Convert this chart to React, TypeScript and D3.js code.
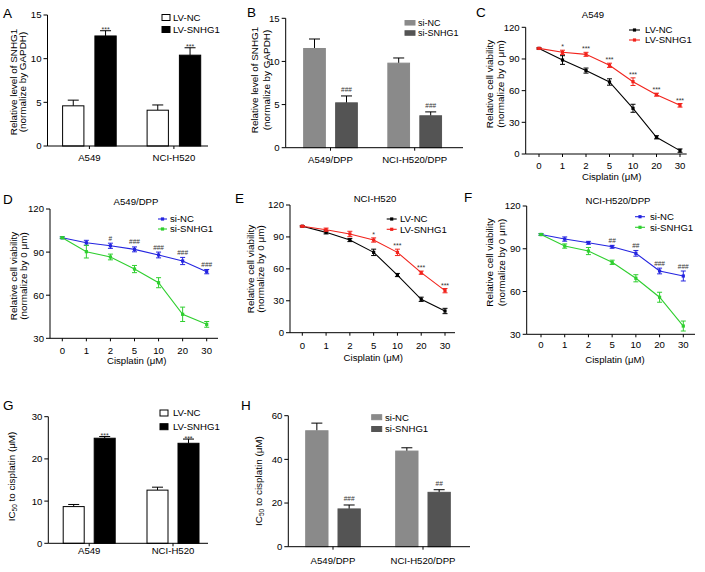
import React from 'react';
import * as d3 from 'd3';

const FONT = "'Liberation Sans', Arial, Helvetica, sans-serif";

// ---------- categories / tick labels ----------
const cellLines = ['A549', 'NCI-H520'];
const dppLines = ['A549/DPP', 'NCI-H520/DPP'];
const lvGroups = ['LV-NC', 'LV-SNHG1'];
const siGroups = ['si-NC', 'si-SNHG1'];
const doses = ['0', '1', '2', '5', '10', '20', '30'];

// ---------- Panel A: relative SNHG1 (LV) ----------
const aNC = [4.6, 4.1];
const aNCErr = [0.65, 0.6];
const aSN = [12.6, 10.4];
const aSNErr = [0.6, 0.85];
const aMarks = ['***', '***'];

// ---------- Panel B: relative SNHG1 (si) ----------
const bNC = [11.5, 9.8];
const bNCErr = [1.1, 0.6];
const bSN = [5.2, 3.7];
const bSNErr = [0.8, 0.45];
const bMarks = ['###', '###'];

// ---------- Panel C: A549 viability ----------
const cNC = [100, 89, 79, 68.2, 43.3, 15.8, 3.2];
const cNCErr = [0.6, 4.1, 2.4, 3, 3.8, 1.5, 1.6];
const cSN = [100, 96.3, 94.4, 84, 68.5, 56.2, 46.1];
const cSNErr = [0.6, 2, 1.9, 2, 3.6, 1.4, 1.7];
const cMarks = ['', '*', '***', '***', '***', '***', '***'];

// ---------- Panel D: A549/DPP viability ----------
const dNC = [100, 96.5, 94.4, 91.9, 88, 83.8, 76.4];
const dNCErr = [0.6, 1.7, 1.8, 1.7, 2, 2.5, 1.5];
const dSN = [100, 90.3, 86.6, 78.2, 68.7, 46.7, 39.7];
const dSNErr = [0.6, 4.4, 2, 2.5, 3.5, 5, 2];
const dMarks = ['', '', '#', '###', '###', '###', '###'];

// ---------- Panel E: NCI-H520 viability ----------
const eNC = [100, 94.3, 87.1, 75.5, 54.2, 31.4, 20.4];
const eNCErr = [0.6, 1.5, 1.5, 3, 1.5, 2, 2.5];
const eSN = [100, 96.8, 92.8, 87.1, 75.5, 56.4, 39.5];
const eSNErr = [0.6, 1.5, 2.5, 2, 3, 1.5, 2];
const eMarks = ['', '', '', '*', '***', '***', '***'];

// ---------- Panel F: NCI-H520/DPP viability ----------
const fNC = [100, 96.8, 94.2, 91.4, 86.8, 74.4, 70.9];
const fNCErr = [0.6, 1.5, 1, 1, 2, 2, 3.5];
const fSN = [100, 91.9, 88.4, 80.5, 69.3, 56, 35.8];
const fSNErr = [0.6, 1.5, 2.5, 1.5, 2.5, 3.5, 3.5];
const fMarks = ['', '', '', '##', '##', '###', '###'];

// ---------- Panel G: IC50 (LV) ----------
const gNC = [8.7, 12.6];
const gNCErr = [0.5, 0.7];
const gSN = [24.9, 23.7];
const gSNErr = [0.4, 1.0];
const gMarks = ['***', '***'];

// ---------- Panel H: IC50 (si) ----------
const hNC = [53.1, 43.8];
const hNCErr = [3.5, 1.5];
const hSN = [17.3, 24.9];
const hSNErr = [1.8, 1.2];
const hMarks = ['###', '##'];

const yTicks15 = [0, 5, 10, 15];
const yTicks30 = [0, 10, 20, 30];
const yTicks60 = [0, 20, 40, 60];
const yTicks120 = [0, 30, 60, 90, 120];
const yTicks30to120 = [30, 60, 90, 120];

const TXT = 9.6;
const YLAB = 9.9;

type BarSpec = {
  letter: string; letterX: number; letterY: number;
  axisX: number; axisEnd: number; yTop: number; yBot: number;
  catRange: [number, number]; barW: number; gap: number;
  yMax: number; yTicks: number[];
  cats: string[]; groups: string[];
  means: number[][]; errs: number[][]; marks: string[];
  fills: string[]; strokes: string[];
  yLabel: string[] | null; yLabelX: number[]; yLabelY: number;
  xLabelY: number;
  legX: number; legY: number[]; legW: number; legH: number; legTextX: number; legFont: number;
};

function BarPanel({ s }: { s: BarSpec }) {
  const y = d3.scaleLinear().domain([0, s.yMax]).range([s.yBot, s.yTop]);
  const xc = d3.scalePoint<string>().domain(s.cats).range(s.catRange);
  const R = 2 * s.barW + s.gap;
  const xg = d3.scaleBand<string>().domain(s.groups).range([-R / 2, R / 2])
    .paddingInner(s.gap / (s.barW + s.gap));
  const bw = xg.bandwidth();
  const capHalf = 5.5;
  return (
    <g fontFamily={FONT}>
      <text x={s.letterX} y={s.letterY} fontSize={13.5}>{s.letter}</text>
      {s.groups.map((g, gi) => s.cats.map((c, ci) => {
        const x0 = (xc(c) as number) + (xg(g) as number);
        const v = s.means[gi][ci];
        const e = s.errs[gi][ci];
        const cx = x0 + bw / 2;
        return (
          <g key={g + c}>
            <line x1={cx} x2={cx} y1={y(v)} y2={y(v + e)} stroke="#000" strokeWidth={1} />
            <line x1={cx - capHalf} x2={cx + capHalf} y1={y(v + e)} y2={y(v + e)} stroke="#000" strokeWidth={1} />
            <rect x={x0} y={y(v)} width={bw} height={s.yBot - y(v)} fill={s.fills[gi]}
              stroke={s.strokes[gi]} strokeWidth={1} />
          </g>
        );
      }))}
      {s.cats.map((c, ci) => {
        const g = s.groups[1];
        const cx = (xc(c) as number) + (xg(g) as number) + bw / 2;
        const top = y(s.means[1][ci] + s.errs[1][ci]);
        const m = s.marks[ci];
        const isStar = m.startsWith('*');
        return (
          <text key={'m' + c} x={cx} y={isStar ? top + 1.5 : top - 3.5} fontSize={isStar ? 7 : 6.5}
            textAnchor="middle" fill="#333">{m}</text>
        );
      })}
      {/* axes */}
      <line x1={s.axisX} x2={s.axisX} y1={s.yTop} y2={s.yBot} stroke="#000" strokeWidth={1} />
      <line x1={s.axisX} x2={s.axisEnd} y1={s.yBot} y2={s.yBot} stroke="#000" strokeWidth={1} />
      {s.yTicks.map(t => (
        <g key={'t' + t}>
          <line x1={s.axisX - 4} x2={s.axisX} y1={y(t)} y2={y(t)} stroke="#000" strokeWidth={1} />
          <text x={s.axisX - 6} y={y(t) + 3.4} fontSize={TXT} textAnchor="end">{t}</text>
        </g>
      ))}
      {s.cats.map(c => (
        <g key={'x' + c}>
          <line x1={xc(c)} x2={xc(c)} y1={s.yBot} y2={s.yBot + 3} stroke="#000" strokeWidth={1} />
          <text x={xc(c)} y={s.xLabelY} fontSize={TXT} textAnchor="middle">{c}</text>
        </g>
      ))}
      {/* y label */}
      {s.yLabel ? s.yLabel.map((l, i) => (
        <text key={'yl' + i} x={s.yLabelX[i]} y={s.yLabelY} fontSize={YLAB} textAnchor="middle"
          transform={`rotate(-90, ${s.yLabelX[i]}, ${s.yLabelY})`}>{l}</text>
      )) : (
        <text x={s.yLabelX[0]} y={s.yLabelY} fontSize={YLAB} textAnchor="middle"
          transform={`rotate(-90, ${s.yLabelX[0]}, ${s.yLabelY})`}>
          <tspan>IC</tspan><tspan fontSize={6.5} dy={2}>50</tspan><tspan dy={-2}> to cisplatin (μM)</tspan>
        </text>
      )}
      {/* legend */}
      {s.groups.map((g, gi) => (
        <g key={'lg' + g}>
          <rect x={s.legX} y={s.legY[gi] - s.legH / 2} width={s.legW} height={s.legH}
            fill={s.fills[gi]} stroke={s.strokes[gi]} strokeWidth={1} />
          <text x={s.legTextX} y={s.legY[gi] + 3.3} fontSize={s.legFont}>{g}</text>
        </g>
      ))}
    </g>
  );
}

type Series = { name: string; color: string; values: number[]; errs: number[] };
type LineSpec = {
  letter: string; letterX: number; letterY: number;
  title: string; titleX: number; titleY: number;
  axisX: number; axisEnd: number; yTop: number; yBot: number;
  xFirst: number; xLast: number;
  yDomain: [number, number]; yTicks: number[];
  series: Series[]; marks: string[];
  yLabelX: number[]; yLabelY: number;
  xTickY: number; xTitleX: number; xTitleY: number;
  legX1: number; legX2: number; legY: number[]; legTextX: number;
};

function LinePanel({ s }: { s: LineSpec }) {
  const x = d3.scalePoint<string>().domain(doses).range([s.xFirst, s.xLast]);
  const y = d3.scaleLinear().domain(s.yDomain).range([s.yBot, s.yTop]);
  const line = d3.line<number>().x((_, i) => x(doses[i]) as number).y(d => y(d));
  const capHalf = 2.5;
  const mk = 3.2;
  const yLab = ['Relative cell viability', '(normalize by 0 μm)'];
  return (
    <g fontFamily={FONT}>
      <text x={s.letterX} y={s.letterY} fontSize={13.5}>{s.letter}</text>
      <text x={s.titleX} y={s.titleY} fontSize={9.6} textAnchor="middle">{s.title}</text>
      {s.series.map(se => (
        <g key={se.name}>
          <path d={line(se.values) || ''} fill="none" stroke={se.color} strokeWidth={1.1} />
          {se.values.map((v, i) => {
            const cx = x(doses[i]) as number;
            const e = se.errs[i];
            return (
              <g key={i}>
                <line x1={cx} x2={cx} y1={y(v - e)} y2={y(v + e)} stroke={se.color} strokeWidth={1} />
                <line x1={cx - capHalf} x2={cx + capHalf} y1={y(v + e)} y2={y(v + e)} stroke={se.color} strokeWidth={1} />
                <line x1={cx - capHalf} x2={cx + capHalf} y1={y(v - e)} y2={y(v - e)} stroke={se.color} strokeWidth={1} />
                <rect x={cx - mk / 2} y={y(v) - mk / 2} width={mk} height={mk} fill={se.color} />
              </g>
            );
          })}
        </g>
      ))}
      {s.marks.map((m, i) => {
        if (!m) return null;
        const top = Math.max(...s.series.map(se => se.values[i] + se.errs[i]));
        const cx = x(doses[i]) as number;
        const isStar = m.startsWith('*');
        return (
          <text key={'m' + i} x={cx} y={isStar ? y(top) - 1 : y(top) - 2.5} fontSize={isStar ? 7 : 6.5}
            textAnchor="middle" fill="#333">{m}</text>
        );
      })}
      {/* axes */}
      <line x1={s.axisX} x2={s.axisX} y1={s.yTop} y2={s.yBot} stroke="#000" strokeWidth={1} />
      <line x1={s.axisX} x2={s.axisEnd} y1={s.yBot} y2={s.yBot} stroke="#000" strokeWidth={1} />
      {s.yTicks.map(t => (
        <g key={'t' + t}>
          <line x1={s.axisX - 4} x2={s.axisX} y1={y(t)} y2={y(t)} stroke="#000" strokeWidth={1} />
          <text x={s.axisX - 6} y={y(t) + 3.4} fontSize={TXT} textAnchor="end">{t}</text>
        </g>
      ))}
      {doses.map(d => (
        <g key={'x' + d}>
          <line x1={x(d)} x2={x(d)} y1={s.yBot} y2={s.yBot + 3} stroke="#000" strokeWidth={1} />
          <text x={x(d)} y={s.xTickY} fontSize={TXT} textAnchor="middle">{d}</text>
        </g>
      ))}
      <text x={s.xTitleX} y={s.xTitleY} fontSize={TXT} textAnchor="middle">Cisplatin (μM)</text>
      {yLab.map((l, i) => (
        <text key={'yl' + i} x={s.yLabelX[i]} y={s.yLabelY} fontSize={YLAB} textAnchor="middle"
          transform={`rotate(-90, ${s.yLabelX[i]}, ${s.yLabelY})`}>{l}</text>
      ))}
      {/* legend */}
      {s.series.map((se, i) => (
        <g key={'lg' + se.name}>
          <line x1={s.legX1} x2={s.legX2} y1={s.legY[i]} y2={s.legY[i]} stroke={se.color} strokeWidth={1.1} />
          <rect x={(s.legX1 + s.legX2) / 2 - mk / 2} y={s.legY[i] - mk / 2} width={mk} height={mk} fill={se.color} />
          <text x={s.legTextX} y={s.legY[i] + 3.4} fontSize={TXT}>{se.name}</text>
        </g>
      ))}
    </g>
  );
}

const BLACK = '#000000';
const RED = '#f2231c';
const BLUE = '#2424e0';
const GREEN = '#2fcf2f';
const GRAY_L = '#8a8a8a';
const GRAY_D = '#545454';

const panelA: BarSpec = {
  letter: 'A', letterX: 3, letterY: 17.5,
  axisX: 47.5, axisEnd: 208, yTop: 15, yBot: 146,
  catRange: [89.4, 173.9], barW: 21.3, gap: 11,
  yMax: 15, yTicks: yTicks15, cats: cellLines, groups: lvGroups,
  means: [aNC, aSN], errs: [aNCErr, aSNErr], marks: aMarks,
  fills: ['#fff', BLACK], strokes: [BLACK, BLACK],
  yLabel: ['Relative level of SNHG1', '(normalize by GAPDH)'], yLabelX: [17, 25.8], yLabelY: 82,
  xLabelY: 160.5,
  legX: 162, legY: [17.5, 29.5], legW: 8, legH: 6, legTextX: 173, legFont: TXT,
};

const panelB: BarSpec = {
  letter: 'B', letterX: 247, letterY: 17,
  axisX: 285.7, axisEnd: 463, yTop: 18.3, yBot: 147.7,
  catRange: [330.5, 414.7], barW: 21.7, gap: 10.3,
  yMax: 15, yTicks: yTicks15, cats: dppLines, groups: siGroups,
  means: [bNC, bSN], errs: [bNCErr, bSNErr], marks: bMarks,
  fills: [GRAY_L, GRAY_D], strokes: [GRAY_L, GRAY_D],
  yLabel: ['Relative level of SNHG1', '(normalize by GAPDH)'], yLabelX: [257.5, 270], yLabelY: 80,
  xLabelY: 162.5,
  legX: 405, legY: [22.8, 33], legW: 10, legH: 4.5, legTextX: 418, legFont: 9,
};

const panelG: BarSpec = {
  letter: 'G', letterX: 3, letterY: 409.5,
  axisX: 48.3, axisEnd: 208, yTop: 416.7, yBot: 543.3,
  catRange: [89.2, 173], barW: 21, gap: 10,
  yMax: 30, yTicks: yTicks30, cats: cellLines, groups: lvGroups,
  means: [gNC, gSN], errs: [gNCErr, gSNErr], marks: gMarks,
  fills: ['#fff', BLACK], strokes: [BLACK, BLACK],
  yLabel: null, yLabelX: [15.3], yLabelY: 476.5,
  xLabelY: 554,
  legX: 160, legY: [413, 426.7], legW: 8, legH: 6, legTextX: 173, legFont: TXT,
};

const panelH: BarSpec = {
  letter: 'H', letterX: 241, letterY: 410,
  axisX: 288.3, axisEnd: 470, yTop: 415.7, yBot: 546.7,
  catRange: [333, 423], barW: 22.3, gap: 10,
  yMax: 60, yTicks: yTicks60, cats: dppLines, groups: siGroups,
  means: [hNC, hSN], errs: [hNCErr, hSNErr], marks: hMarks,
  fills: [GRAY_L, GRAY_D], strokes: [GRAY_L, GRAY_D],
  yLabel: null, yLabelX: [262], yLabelY: 481,
  xLabelY: 563.5,
  legX: 371.7, legY: [417.2, 429], legW: 10, legH: 5, legTextX: 385, legFont: TXT,
};

const panelC: LineSpec = {
  letter: 'C', letterX: 476, letterY: 17,
  title: 'A549', titleX: 593, titleY: 17.5,
  axisX: 525.7, axisEnd: 686.7, yTop: 27.3, yBot: 154,
  xFirst: 539, xLast: 680, yDomain: [0, 120], yTicks: yTicks120,
  series: [
    { name: 'LV-NC', color: BLACK, values: cNC, errs: cNCErr },
    { name: 'LV-SNHG1', color: RED, values: cSN, errs: cSNErr },
  ],
  marks: cMarks,
  yLabelX: [492.5, 504], yLabelY: 84,
  xTickY: 168.5, xTitleX: 611.7, xTitleY: 180,
  legX1: 629, legX2: 640, legY: [30, 40], legTextX: 645,
};

const panelD: LineSpec = {
  letter: 'D', letterX: 3, letterY: 203.5,
  title: 'A549/DPP', titleX: 136, titleY: 204.5,
  axisX: 50, axisEnd: 218, yTop: 209, yBot: 338.3,
  xFirst: 62.3, xLast: 206.7, yDomain: [30, 120], yTicks: yTicks30to120,
  series: [
    { name: 'si-NC', color: BLUE, values: dNC, errs: dNCErr },
    { name: 'si-SNHG1', color: GREEN, values: dSN, errs: dSNErr },
  ],
  marks: dMarks,
  yLabelX: [16.5, 27], yLabelY: 276,
  xTickY: 353.5, xTitleX: 136.7, xTitleY: 364,
  legX1: 158, legX2: 167, legY: [219, 229], legTextX: 170,
};

const panelE: LineSpec = {
  letter: 'E', letterX: 235, letterY: 202.5,
  title: 'NCI-H520', titleX: 375, titleY: 201.5,
  axisX: 290, axisEnd: 455, yTop: 205, yBot: 332.7,
  xFirst: 302.3, xLast: 445, yDomain: [0, 120], yTicks: yTicks120,
  series: [
    { name: 'LV-NC', color: BLACK, values: eNC, errs: eNCErr },
    { name: 'LV-SNHG1', color: RED, values: eSN, errs: eSNErr },
  ],
  marks: eMarks,
  yLabelX: [253.5, 264], yLabelY: 269,
  xTickY: 348.5, xTitleX: 373.3, xTitleY: 361,
  legX1: 386.7, legX2: 396.7, legY: [219, 229.3], legTextX: 400,
};

const panelF: LineSpec = {
  letter: 'F', letterX: 464, letterY: 201.5,
  title: 'NCI-H520/DPP', titleX: 618, titleY: 203.5,
  axisX: 526.7, axisEnd: 695, yTop: 206, yBot: 334.3,
  xFirst: 541, xLast: 683.3, yDomain: [30, 120], yTicks: yTicks30to120,
  series: [
    { name: 'si-NC', color: BLUE, values: fNC, errs: fNCErr },
    { name: 'si-SNHG1', color: GREEN, values: fSN, errs: fSNErr },
  ],
  marks: fMarks,
  yLabelX: [493, 504.5], yLabelY: 262.5,
  xTickY: 347.5, xTitleX: 615, xTitleY: 362.5,
  legX1: 635, legX2: 645, legY: [216.7, 227.3], legTextX: 650,
};

export default function App() {
  return (
    <svg width={705} height={572} viewBox="0 0 705 572"
      style={{ position: 'absolute', left: 0, top: 0, background: '#fff' }}>
      <rect x={0} y={0} width={705} height={572} fill="#fff" />
      <BarPanel s={panelA} />
      <BarPanel s={panelB} />
      <LinePanel s={panelC} />
      <LinePanel s={panelD} />
      <LinePanel s={panelE} />
      <LinePanel s={panelF} />
      <BarPanel s={panelG} />
      <BarPanel s={panelH} />
    </svg>
  );
}
